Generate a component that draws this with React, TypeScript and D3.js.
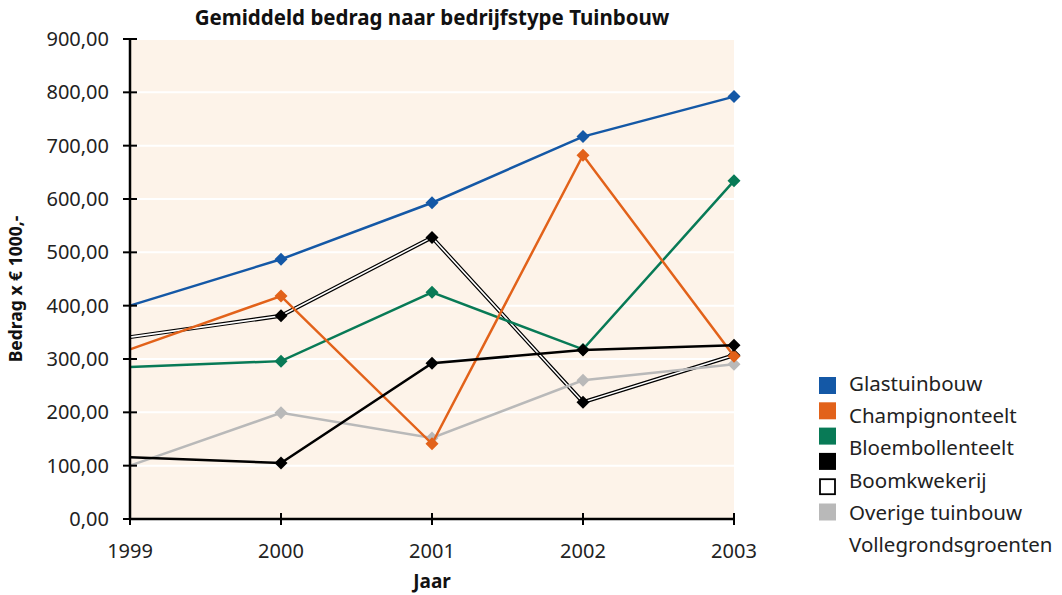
import React from "react";
import * as d3 from "d3";

// Data
const years = ["1999", "2000", "2001", "2002", "2003"];
const glastuinbouw = [400, 487, 593, 717, 792];
const champignonteelt = [318, 418, 141, 682, 305];
const bloembollenteelt = [285, 296, 425, 318, 634];
const boomkwekerij = [116, 105, 292, 317, 326];
const boomkwekerijDubbel = [341, 381, 528, 219, 307];
const overigeTuinbouw = [100, 199, 152, 260, 290];
const yTicks = [0, 100, 200, 300, 400, 500, 600, 700, 800, 900];
const legendNames = ["Glastuinbouw", "Champignonteelt", "Bloembollenteelt", "Boomkwekerij", "Overige tuinbouw", "Vollegrondsgroenten"];
const legendSwatches = ["#1458a6", "#e2621a", "#087a56", "#000000", "hollow", "#b9b9b9"];

const FONT = "'Noto Sans', 'Open Sans', sans-serif";

export default function App() {
  const margin = { top: 39, right: 328, bottom: 76, left: 130 };
  const W = 1062, H = 595;
  const width = W - margin.left - margin.right;
  const height = H - margin.top - margin.bottom;

  const x = d3.scalePoint<string>().domain(years).range([0, width]);
  const y = d3.scaleLinear().domain([0, 900]).range([height, 0]);
  const line = d3.line<number>().x((_, i) => x(years[i]) as number).y((d) => y(d));
  const fmt = (v: number) => d3.format(".2f")(v).replace(".", ",");

  const series = [
    { values: overigeTuinbouw, color: "#b9b9b9" },
    { values: bloembollenteelt, color: "#087a56" },
    { values: champignonteelt, color: "#e2621a" },
    { values: boomkwekerij, color: "#000000" },
    { values: glastuinbouw, color: "#1458a6" },
  ];

  const diamond = (cx: number, cy: number, r: number) =>
    `M${cx},${cy - r}L${cx + r},${cy}L${cx},${cy + r}L${cx - r},${cy}Z`;

  return (
    <svg width={W} height={H} style={{ position: "absolute", left: 0, top: 0, fontFamily: FONT }}>
      <rect width={W} height={H} fill="#ffffff" />
      <text x={432} y={25} textAnchor="middle" fontSize={20.5} fontWeight="bold" fill="#111">
        Gemiddeld bedrag naar bedrijfstype Tuinbouw
      </text>
      <g transform={`translate(${margin.left},${margin.top})`}>
        <rect width={width} height={height} fill="#fdf3e9" />
        {yTicks.slice(1).map((t) => (
          <line key={t} x1={0} x2={width} y1={y(t)} y2={y(t)} stroke="#ffffff" strokeWidth={2} />
        ))}

        {/* double line series */}
        <path d={line(boomkwekerijDubbel) || ""} fill="none" stroke="#000" strokeWidth={4} />
        <path d={line(boomkwekerijDubbel) || ""} fill="none" stroke="#fff" strokeWidth={1.6} />
        {boomkwekerijDubbel.slice(1).map((v, i) => (
          <path key={i} d={diamond(x(years[i + 1]) as number, y(v), 6.5)} fill="#000" />
        ))}

        {series.map((s, si) => (
          <g key={si}>
            <path d={line(s.values) || ""} fill="none" stroke={s.color} strokeWidth={2.5} />
            {s.values.slice(1).map((v, i) => (
              <path key={i} d={diamond(x(years[i + 1]) as number, y(v), 6.5)} fill={s.color} />
            ))}
          </g>
        ))}

        {/* axes */}
        <line x1={0} x2={0} y1={0} y2={height} stroke="#000" strokeWidth={2.5} />
        <line x1={0} x2={width + 1} y1={height} y2={height} stroke="#000" strokeWidth={2.5} />
        {yTicks.map((t) => (
          <g key={t}>
            <line x1={-7} x2={7} y1={y(t)} y2={y(t)} stroke="#000" strokeWidth={2} />
            <text x={-21} y={y(t)} dy="0.35em" textAnchor="end" fontSize={20} fill="#222">
              {fmt(t)}
            </text>
          </g>
        ))}
        {years.map((yr) => (
          <g key={yr}>
            <line x1={x(yr)} x2={x(yr)} y1={height - 6} y2={height + 6} stroke="#000" strokeWidth={2} />
            <text x={x(yr)} y={height + 39} textAnchor="middle" fontSize={20} fill="#222">
              {yr}
            </text>
          </g>
        ))}
      </g>
      <text x={432} y={588} textAnchor="middle" fontSize={19} fontWeight="bold" fill="#111">
        Jaar
      </text>
      <text transform="translate(22,289) rotate(-90)" textAnchor="middle" fontSize={17.5} fontWeight="bold" fill="#111">
        Bedrag x € 1000,-
      </text>

      {/* legend: swatches and labels are spaced differently, as in the reference */}
      <g transform="translate(819,377)">
        {legendSwatches.map((sw, i) =>
          sw === "hollow" ? (
            <rect key={i} x={1} y={i * 25.3 + 1} width={15} height={15} fill="#fff" stroke="#000" strokeWidth={1.8} />
          ) : (
            <rect key={i} x={0} y={i * 25.3} width={17} height={17} fill={sw} />
          )
        )}
        {legendNames.map((name, i) => (
          <text key={name} x={30} y={6.5 + i * 32.3} dy="0.35em" fontSize={20.5} fill="#222">
            {name}
          </text>
        ))}
      </g>
    </svg>
  );
}
